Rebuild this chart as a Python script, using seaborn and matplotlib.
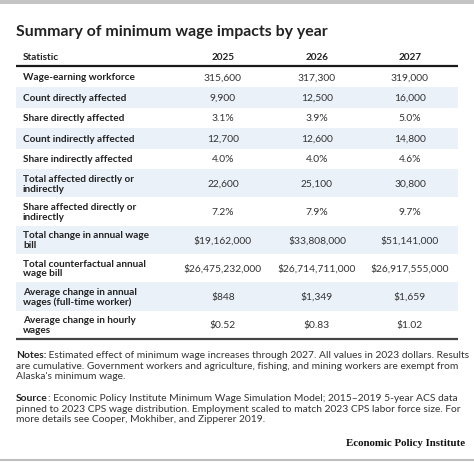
import matplotlib.pyplot as plt
import seaborn as sns

sns.set_style("white")
plt.rcParams['font.family'] = ['Lato', 'DejaVu Sans']

# data
title = "Summary of minimum wage impacts by year"
years = ["2025", "2026", "2027"]
statistics = [
    "Wage-earning workforce",
    "Count directly affected",
    "Share directly affected",
    "Count indirectly affected",
    "Share indirectly affected",
    "Total affected directly or\nindirectly",
    "Share affected directly or\nindirectly",
    "Total change in annual wage\nbill",
    "Total counterfactual annual\nwage bill",
    "Average change in annual\nwages (full-time worker)",
    "Average change in hourly\nwages",
]
vals_2025 = ["315,600", "9,900", "3.1%", "12,700", "4.0%", "22,600", "7.2%",
             "$19,162,000", "$26,475,232,000", "$848", "$0.52"]
vals_2026 = ["317,300", "12,500", "3.9%", "12,600", "4.0%", "25,100", "7.9%",
             "$33,808,000", "$26,714,711,000", "$1,349", "$0.83"]
vals_2027 = ["319,000", "16,000", "5.0%", "14,800", "4.6%", "30,800", "9.7%",
             "$51,141,000", "$26,917,555,000", "$1,659", "$1.02"]
notes_lines = [
    "Estimated effect of minimum wage increases through 2027. All values in 2023 dollars. Results",
    "are cumulative. Government workers and agriculture, fishing, and mining workers are exempt from",
    "Alaska's minimum wage.",
]
source_lines = [
    ": Economic Policy Institute Minimum Wage Simulation Model; 2015\u20132019 5-year ACS data",
    "pinned to 2023 CPS wage distribution. Employment scaled to match 2023 CPS labor force size. For",
    "more details see Cooper, Mokhiber, and Zipperer 2019.",
]

W, H = 474, 477
fig = plt.figure(figsize=(W / 100, H / 100), dpi=100)
ax = fig.add_axes([0, 0, 1, 1])
ax.set_xlim(0, W)
ax.set_ylim(H, 0)
ax.axis('off')

txt = '#222222'
left, right = 16, 458
col_x = [223, 317, 410]
fs = 7.2

# frame bands
ax.axhspan(0, 5, color='#c4c4c4', lw=0)
ax.plot([0, W], [461, 461], color='#bdbdbd', lw=1.5)

ax.text(left, 32, title, fontsize=11.4, fontweight='bold', color=txt, va='center')

# header
ax.text(23, 57, "Statistic", fontsize=fs, fontweight='bold', color=txt, va='center')
for x, yr in zip(col_x, years):
    ax.text(x, 57, yr, fontsize=fs, fontweight='bold', color=txt, va='center', ha='center')
ax.plot([left, right], [67, 67], color='#1a1a1a', lw=1.6, solid_capstyle='butt')

# rows
y = 67.5
for i, lab in enumerate(statistics):
    h = 28.3 if '\n' in lab else 20.5
    if i % 2 == 1:
        ax.fill_between([left, right], y, y + h, color='#eaf1f9', lw=0)
    yc = y + h / 2
    ax.text(23, yc, lab, fontsize=fs, fontweight='bold', color=txt, va='center',
            linespacing=1.1)
    for x, v in zip(col_x, [vals_2025[i], vals_2026[i], vals_2027[i]]):
        ax.text(x, yc, v, fontsize=7.4, color='#333333', va='center', ha='center')
    y += h
ax.plot([left, right], [y, y], color='#444444', lw=1.6, solid_capstyle='butt')

# notes and source
fig.canvas.draw()
r = fig.canvas.get_renderer()
nfs = 7.35


def block(label, lines, y0):
    t = ax.text(left, y0, label, fontsize=nfs, fontweight='bold', color=txt, va='center')
    w = t.get_window_extent(r).width
    ax.text(left + w, y0, lines[0], fontsize=nfs, color='#333333', va='center')
    for k, ln in enumerate(lines[1:]):
        ax.text(left, y0 + 10.5 * (k + 1), ln, fontsize=nfs, color='#333333', va='center')


block("Notes:", [" " + notes_lines[0]] + notes_lines[1:], 356)
block("Source", source_lines, 399)

ax.text(465, 444, "Economic Policy Institute", fontsize=7.8, fontweight='bold',
        family='Liberation Serif', color='#111111', ha='right', va='center')

fig.savefig("out.png", dpi=100)
